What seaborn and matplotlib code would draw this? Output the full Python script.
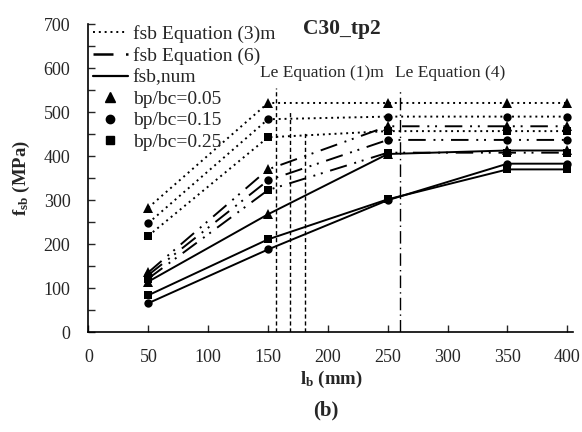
import numpy as np
import pandas as pd
import seaborn as sns
import matplotlib.pyplot as plt
from matplotlib.lines import Line2D

# data
lb = [50, 150, 250, 350, 400]
ratios = ['bp/bc=0.05', 'bp/bc=0.15', 'bp/bc=0.25']

eq3m_005 = [283, 521, 521, 521, 521]
eq3m_015 = [248, 484, 490, 490, 490]
eq3m_025 = [219, 443, 457, 457, 457]

eq6_005 = [136, 370, 468, 468, 468]
eq6_015 = [130, 345, 437, 437, 437]
eq6_025 = [122, 323, 408, 408, 408]

num_005 = [115, 268, 405, 413, 413]
num_015 = [66, 188, 300, 383, 383]
num_025 = [84, 211, 302, 370, 370]

le_eq1m = [157, 168, 181]
le_eq1m_top = [555, 500, 455]
le_eq4 = 260

rows = []
for method, series in [('Eq3m', [eq3m_005, eq3m_015, eq3m_025]),
                       ('Eq6', [eq6_005, eq6_015, eq6_025]),
                       ('num', [num_005, num_015, num_025])]:
    for r, vals in zip(ratios, series):
        for x, v in zip(lb, vals):
            rows.append((method, r, x, v))
df = pd.DataFrame(rows, columns=['method', 'ratio', 'lb', 'fsb'])

sns.set_style('ticks')
plt.rcParams['font.family'] = ['Liberation Serif', 'DejaVu Serif']
plt.rcParams['mathtext.fontset'] = 'custom'
plt.rcParams['mathtext.rm'] = 'Liberation Serif'
plt.rcParams['mathtext.bf'] = 'Liberation Serif:bold'

fig = plt.figure(figsize=(5.82, 4.32), dpi=100)
ax = fig.add_axes([0.152, 0.231, 0.833, 0.713])

dashes = {'Eq3m': (0, (1, 2)), 'Eq6': (0, (9, 4, 1, 3, 1, 4)), 'num': '-'}
markers = {'bp/bc=0.05': '^', 'bp/bc=0.15': 'o', 'bp/bc=0.25': 's'}
msize = {'bp/bc=0.05': 6.5, 'bp/bc=0.15': 6, 'bp/bc=0.25': 6}

for (method, r), g in df.groupby(['method', 'ratio']):
    sns.lineplot(data=g, x='lb', y='fsb', ax=ax, color='black',
                 linestyle=dashes[method], marker=markers[r],
                 markersize=msize[r], linewidth=1.4, markeredgewidth=0)

for x, top in zip(le_eq1m, le_eq1m_top):
    ax.plot([x, x], [0, top], color='black', linestyle=(0, (3, 2)), linewidth=1)
ax.plot([le_eq4, le_eq4], [0, 550], color='black',
        linestyle=(0, (9, 3, 1, 3)), linewidth=1)

ax.text(143, 590, 'Le Equation (1)m', fontsize=12.5, va='center')
ax.text(256, 590, 'Le Equation (4)', fontsize=12.5, va='center')
ax.text(179, 688, 'C30_tp2', fontsize=15.5, fontweight='bold', va='center')

handles = [
    Line2D([], [], color='black', linestyle=dashes['Eq3m'], linewidth=1.4),
    Line2D([], [], color='black', linestyle=(0, (8, 5, 1, 3)), linewidth=1.8),
    Line2D([], [], color='black', linestyle='-', linewidth=1.6),
    Line2D([], [], color='black', linestyle='none', marker='^', markersize=6.5),
    Line2D([], [], color='black', linestyle='none', marker='o', markersize=6),
    Line2D([], [], color='black', linestyle='none', marker='s', markersize=6),
]
labels = ['fsb Equation (3)m', 'fsb Equation (6)', 'fsb,num'] + ratios
ax.legend(handles, labels, loc='upper left', bbox_to_anchor=(-0.015, 1.035),
          frameon=False, fontsize=14, handlelength=1.8, handletextpad=0.25,
          labelspacing=0.2, borderaxespad=0.2)

ax.set_xlim(0, 405)
ax.set_ylim(0, 700)
ax.set_xticks(np.arange(0, 401, 50))
ax.set_yticks(np.arange(0, 701, 100))
ax.set_yticks(np.arange(50, 701, 100), minor=True)
ax.tick_params(direction='in', labelsize=13, length=5, width=1)
ax.tick_params(which='minor', direction='in', length=5, width=1)
ax.tick_params(axis='y', pad=13)
ax.tick_params(axis='x', pad=12)
sns.despine(ax=ax)
for s in ['left', 'bottom']:
    ax.spines[s].set_linewidth(1.2)
    ax.spines[s].set_color('black')

ax.set_xlabel(r'$\mathbf{l_b}$ (mm)', fontsize=13.5, fontweight='bold', labelpad=2)
ax.set_ylabel(r'$\mathbf{f_{sb}}$ (MPa)', fontsize=13.5, fontweight='bold', labelpad=8)
fig.text(0.56, 0.05, '(b)', fontsize=15, fontweight='bold', ha='center', va='center')

fig.savefig('out.png', dpi=100)
